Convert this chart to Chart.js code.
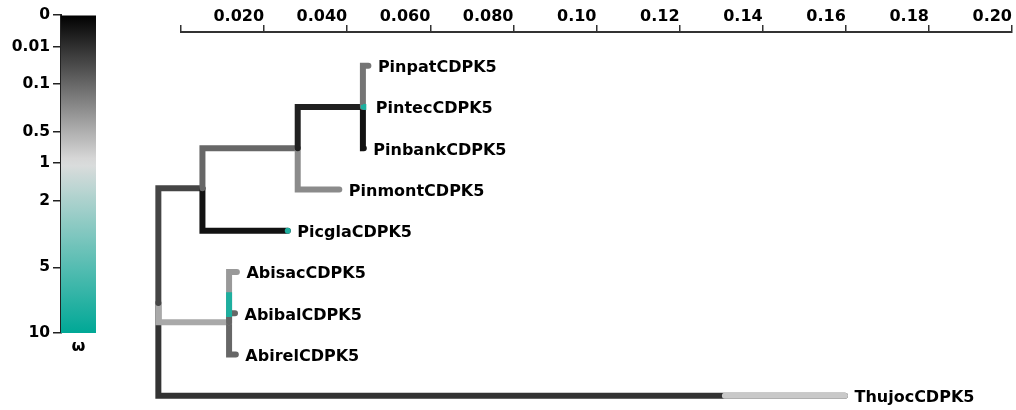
<!DOCTYPE html>
<html>
<head>
<meta charset="utf-8">
<script src="https://cdn.jsdelivr.net/npm/chart.js@4.4.0/dist/chart.umd.min.js"></script>
<style>
  html, body { margin: 0; padding: 0; background: #fff; }
  #wrap { position: relative; width: 1016px; height: 410px; overflow: hidden; }
  #tree { position: absolute; left: 0; top: 0; }
  #legend { position: absolute; left: 0; top: 0; }
</style>
</head>
<body>
<div id="wrap">
  <canvas id="tree" width="1016" height="410"></canvas>
  <canvas id="legend" width="110" height="365"></canvas>
</div>
<script>
// ---------------- DATA ----------------
// Leaves (tips) of the tree, top to bottom
const leafNames   = ['PinpatCDPK5','PintecCDPK5','PinbankCDPK5','PinmontCDPK5','PicglaCDPK5',
                     'AbisacCDPK5','AbibalCDPK5','AbirelCDPK5','ThujocCDPK5'];
const leafRows    = [0, 1, 2, 3, 4, 5, 6, 7, 8];
const leafDepths  = [0.0451, 0.0446, 0.0440, 0.0381, 0.0257, 0.01345, 0.0130, 0.0132, 0.1598];
const leafParents = ['C','C','C','B','A','D','D','D','root'];
const leafOmegas  = [0.15, 8, 0.0005, 0.25, 0.0005, 0.33, 0.1, 0.1, 0.012];

// Internal nodes
const nodeIds     = ['root','A','B','C','D'];
const nodeDepths  = [-0.00545, 0.00516, 0.02809, 0.04378, 0.01157];
const nodeRows    = [5.75, 2.97, 2.0, 1.0, 6.22];
const nodeParents = [null, 'root', 'A', 'B', 'root'];
const nodeOmegas  = [null, 0.03, 0.1, 0.003, 0.45];

// Extra omega classes seen along some branches
const thujocSplitDepth = 0.1309;  const thujocTipOmega = 0.75;
const picglaSplitDepth = 0.0256;  const picglaTipOmega = 8;
const abibalClassRows  = [5.49, 6.09]; const abibalClassOmega = 8;

// Omega colour legend
const legendTickValues = [0, 0.01, 0.1, 0.5, 1, 2, 5, 10];
const legendTickLabels = ['0', '0.01', '0.1', '0.5', '1', '2', '5', '10'];
const omegaAnchors = [0, 1, 10];
const omegaAnchorColors = [[0,0,0],[221,221,221],[0,168,150]];
const legendAxisTitle = ['ω'];

// Branch-length axis
const axisMin = 0, axisMax = 0.2, axisStep = 0.02;

// ---------------- HELPERS ----------------
const OMEGA_MAX = omegaAnchors[omegaAnchors.length - 1];
function omegaPos(w) { return Math.cbrt(Math.max(0, Math.min(w, OMEGA_MAX)) / OMEGA_MAX); }
function omegaColor(w) {
  const f = omegaPos(w);
  for (let i = 0; i < omegaAnchors.length - 1; i++) {
    const f0 = omegaPos(omegaAnchors[i]), f1 = omegaPos(omegaAnchors[i + 1]);
    if (f <= f1 || i === omegaAnchors.length - 2) {
      const t = Math.max(0, Math.min(1, (f - f0) / (f1 - f0)));
      const c0 = omegaAnchorColors[i], c1 = omegaAnchorColors[i + 1];
      const c = c0.map((v, k) => Math.round(v + (c1[k] - v) * t));
      return `rgb(${c[0]},${c[1]},${c[2]})`;
    }
  }
}
const FONT = 'DejaVu Sans';

function nodeInfo(id) {
  const i = nodeIds.indexOf(id);
  return { depth: nodeDepths[i], row: nodeRows[i] };
}
// path listed tip -> elbow -> parent (decreasing x keeps every point visible)
function branchPath(parentId, depth, row) {
  const p = nodeInfo(parentId);
  return [{x: depth, y: row}, {x: p.depth, y: row}, {x: p.depth, y: p.row}];
}
function lineDs(points, omega, extra) {
  return Object.assign({
    data: points, showLine: true, borderColor: omegaColor(omega), borderWidth: 6,
    borderCapStyle: 'round', borderJoinStyle: 'miter', pointRadius: 0, tension: 0, clip: false
  }, extra || {});
}
function leafBranch(name) {
  const i = leafNames.indexOf(name);
  return branchPath(leafParents[i], leafDepths[i], leafRows[i]);
}
function nodeBranch(id) {
  const i = nodeIds.indexOf(id);
  return branchPath(nodeParents[i], nodeDepths[i], nodeRows[i]);
}
const L = n => leafNames.indexOf(n);
const N = n => nodeIds.indexOf(n);

// paint order (first = bottom)
const paint = [];
// Thujoc
paint.push(lineDs(leafBranch('ThujocCDPK5'), leafOmegas[L('ThujocCDPK5')]));
paint.push(lineDs([{x: leafDepths[L('ThujocCDPK5')], y: leafRows[L('ThujocCDPK5')]}, {x: thujocSplitDepth, y: leafRows[L('ThujocCDPK5')]}], thujocTipOmega));
// Abies clade
paint.push(lineDs(nodeBranch('D'), nodeOmegas[N('D')]));
paint.push(lineDs(leafBranch('AbirelCDPK5'), leafOmegas[L('AbirelCDPK5')]));
paint.push(lineDs(leafBranch('AbisacCDPK5'), leafOmegas[L('AbisacCDPK5')]));
paint.push(lineDs(leafBranch('AbibalCDPK5'), leafOmegas[L('AbibalCDPK5')]));
paint.push(lineDs([{x: nodeDepths[N('D')], y: abibalClassRows[0]}, {x: nodeDepths[N('D')], y: abibalClassRows[1]}], abibalClassOmega, {borderCapStyle: 'butt'}));
// Pinaceae clade
paint.push(lineDs(nodeBranch('A'), nodeOmegas[N('A')]));
paint.push(lineDs(leafBranch('PicglaCDPK5'), leafOmegas[L('PicglaCDPK5')]));
paint.push(lineDs([{x: leafDepths[L('PicglaCDPK5')], y: leafRows[L('PicglaCDPK5')]}, {x: picglaSplitDepth, y: leafRows[L('PicglaCDPK5')]}], picglaTipOmega));
paint.push(lineDs(nodeBranch('B'), nodeOmegas[N('B')]));
paint.push(lineDs(leafBranch('PinmontCDPK5'), leafOmegas[L('PinmontCDPK5')]));
paint.push(lineDs(nodeBranch('C'), nodeOmegas[N('C')]));
paint.push(lineDs(leafBranch('PinbankCDPK5'), leafOmegas[L('PinbankCDPK5')]));
paint.push(lineDs(leafBranch('PinpatCDPK5'), leafOmegas[L('PinpatCDPK5')]));
paint.push(lineDs([{x: leafDepths[L('PintecCDPK5')], y: leafRows[L('PintecCDPK5')]}, {x: nodeDepths[N('C')], y: leafRows[L('PintecCDPK5')]}], leafOmegas[L('PintecCDPK5')], {borderCapStyle: 'butt'}));
paint.push({
  data: [{x: nodeDepths[N('C')], y: leafRows[L('PintecCDPK5')]}], showLine: false,
  pointStyle: 'rect', pointRadius: 3, pointBorderWidth: 0,
  pointBackgroundColor: omegaColor(leafOmegas[L('PintecCDPK5')]), clip: false
});
const datasets = paint.slice().reverse(); // Chart.js paints dataset 0 on top

const leafLabelPlugin = {
  id: 'leafLabels',
  afterDatasetsDraw(chart) {
    const {ctx, scales: {x, y}} = chart;
    ctx.save();
    ctx.font = `bold 16px "${FONT}"`;
    ctx.fillStyle = '#000';
    ctx.textAlign = 'left';
    ctx.textBaseline = 'alphabetic';
    leafNames.forEach((n, i) => {
      ctx.fillText(n, x.getPixelForValue(leafDepths[i]) + 9.5, y.getPixelForValue(leafRows[i]) + 6.5);
    });
    ctx.restore();
  }
};

new Chart(document.getElementById('tree'), {
  type: 'scatter',
  data: { datasets },
  options: {
    responsive: false, animation: false, events: [],
    layout: { padding: { left: 181, right: 2, top: 0, bottom: 5 } },
    plugins: { legend: { display: false }, tooltip: { enabled: false } },
    scales: {
      x: {
        type: 'linear', position: 'top', min: axisMin, max: axisMax,
        afterFit: s => { s.height = 32; },
        ticks: {
          stepSize: axisStep, align: 'end', padding: -1, color: '#000', autoSkip: false, maxRotation: 0,
          font: { family: FONT, size: 16, weight: 'bold' },
          callback: v => (Math.abs(v) < 1e-9 ? '' : Number(v).toPrecision(2))
        },
        grid: { display: true, drawOnChartArea: false, drawTicks: true, tickLength: 7, color: '#333', lineWidth: 1.5 },
        border: { display: true, color: '#333', width: 2 }
      },
      y: { type: 'linear', display: false, reverse: true, min: -0.817, max: 8.225 }
    }
  },
  plugins: [leafLabelPlugin]
});

// ---------------- LEGEND ----------------
new Chart(document.getElementById('legend'), {
  type: 'bar',
  data: {
    labels: legendAxisTitle,
    datasets: [{
      data: [omegaPos(OMEGA_MAX)], barPercentage: 1, categoryPercentage: 1, borderWidth: 0,
      backgroundColor: (c) => {
        const area = c.chart.chartArea;
        if (!area) return '#888';
        const g = c.chart.ctx.createLinearGradient(0, area.top, 0, area.bottom);
        for (let i = 0; i <= 40; i++) {
          const f = i / 40;
          g.addColorStop(f, omegaColor(OMEGA_MAX * f * f * f));
        }
        return g;
      }
    }]
  },
  options: {
    responsive: false, animation: false, events: [],
    layout: { padding: { left: 0, right: 14, top: 15, bottom: 0 } },
    plugins: { legend: { display: false }, tooltip: { enabled: false } },
    scales: {
      x: {
        afterFit: s => { s.height = 32; },
        grid: { display: false, drawTicks: false }, border: { display: false },
        ticks: { padding: 4, color: '#000', font: { family: FONT, size: 16, weight: 'bold' } }
      },
      y: {
        reverse: true, min: 0, max: 1,
        afterFit: s => { s.width = 61; },
        afterBuildTicks: s => { s.ticks = legendTickValues.map(v => ({ value: omegaPos(v) })); },
        ticks: {
          autoSkip: false, padding: 3, color: '#000',
          font: { family: FONT, size: 15.5, weight: 'bold' },
          callback: (v, i) => legendTickLabels[i]
        },
        grid: { display: true, drawOnChartArea: false, drawTicks: true, tickLength: 8, color: '#222', lineWidth: 1.5 },
        border: { display: true, color: '#222', width: 2 }
      }
    }
  }
});
</script>
</body>
</html>
